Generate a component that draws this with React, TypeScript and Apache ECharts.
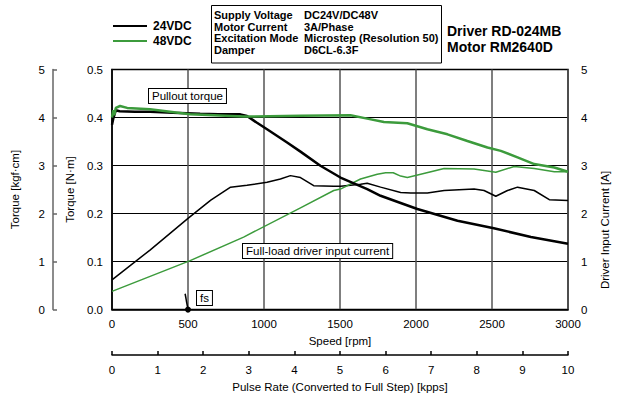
import React, { useEffect, useRef } from "react";
import * as echarts from "echarts";

// Speed [rpm] vs torque [N·m] / driver input current [A]
const torque24VDC: [number, number][] = [
  [0, 0.385], [10, 0.4], [25, 0.415], [50, 0.413], [150, 0.412], [250, 0.412],
  [400, 0.41], [580, 0.408], [700, 0.407], [844, 0.4066], [888, 0.403],
  [954, 0.389], [1020, 0.3755], [1152, 0.348], [1240, 0.329], [1371, 0.2995],
  [1503, 0.275], [1679, 0.251], [1767, 0.237], [1899, 0.222], [2009, 0.2095],
  [2273, 0.185], [2512, 0.1695], [2756, 0.151], [3000, 0.137],
];
const torque48VDC: [number, number][] = [
  [0, 0.4], [8, 0.415], [15, 0.405], [25, 0.42], [53, 0.424], [100, 0.42],
  [250, 0.417], [514, 0.4066], [864, 0.402], [1240, 0.4035], [1400, 0.404],
  [1569, 0.4046], [1679, 0.3977], [1789, 0.3907], [1943, 0.388], [2075, 0.3755],
  [2207, 0.365], [2338, 0.351], [2470, 0.3375], [2558, 0.3305], [2668, 0.317],
  [2778, 0.303], [2910, 0.296], [3000, 0.287],
];
const current24VDC: [number, number][] = [
  [0, 0.62], [250, 1.24], [500, 1.9], [650, 2.28], [780, 2.55], [888, 2.59],
  [1020, 2.65], [1108, 2.72], [1174, 2.79], [1240, 2.75], [1327, 2.58],
  [1459, 2.57], [1503, 2.57], [1635, 2.61], [1679, 2.63], [1767, 2.55],
  [1899, 2.44], [1965, 2.43], [2075, 2.43], [2185, 2.48], [2382, 2.51],
  [2448, 2.48], [2525, 2.36], [2602, 2.48], [2668, 2.55], [2778, 2.48],
  [2877, 2.29], [3000, 2.27],
];
const current48VDC: [number, number][] = [
  [0, 0.38], [514, 1.02], [866, 1.51], [1240, 2.12], [1459, 2.48], [1503, 2.51],
  [1635, 2.72], [1745, 2.82], [1800, 2.85], [1850, 2.85], [1899, 2.78],
  [1943, 2.75], [2031, 2.82], [2185, 2.94], [2382, 2.93], [2525, 2.86],
  [2646, 2.98], [2778, 2.94], [2910, 2.87], [3000, 2.87],
];
const fsMarker: [number, number][] = [[481, 0.033], [500, 0]];

const legendNames = ["24VDC", "48VDC"];
const specLabels = ["Supply Voltage", "Motor Current", "Excitation Mode", "Damper"];
const specValues = ["DC24V/DC48V", "3A/Phase", "Microstep (Resolution 50)", "D6CL-6.3F"];
const headerLines = ["Driver RD-024MB", "Motor RM2640D"];

const BLACK = "#000000";
const GREEN = "#3c9b3c";
const AXFONT = '"Liberation Sans", Arial, sans-serif';
const BOLD = '"Liberation Sans", Arial, sans-serif';

export default function App() {
  const ref = useRef<HTMLDivElement>(null);
  useEffect(() => {
    if (!ref.current) return;
    const chart = echarts.init(ref.current, undefined, { renderer: "svg" });
    const axisText = { color: "#000", fontFamily: AXFONT, fontSize: 11.5 };
    const boxText = (text: string, x: number, y: number) => ({
      type: "text",
      x,
      y,
      z: 100,
      style: {
        text,
        fill: "#000",
        font: `11.5px ${AXFONT}`,
        backgroundColor: "#fff",
        borderColor: "#000",
        borderWidth: 1,
        padding: [1, 3, 1, 3],
      },
    });
    const graphic: any[] = [
      { type: "line", shape: { x1: 113, y1: 26, x2: 147, y2: 26 }, style: { stroke: BLACK, lineWidth: 2 } },
      { type: "line", shape: { x1: 113, y1: 41, x2: 147, y2: 41 }, style: { stroke: GREEN, lineWidth: 2 } },
      { type: "text", x: 153, y: 26, style: { text: legendNames[0], font: `bold 12px ${BOLD}`, fill: "#000", verticalAlign: "middle" } },
      { type: "text", x: 153, y: 41, style: { text: legendNames[1], font: `bold 12px ${BOLD}`, fill: "#000", verticalAlign: "middle" } },
      { type: "rect", shape: { x: 211.5, y: 5.5, width: 230, height: 57.5 }, style: { fill: "#fff", stroke: "#000", lineWidth: 1 } },
      ...specLabels.map((t, i) => ({
        type: "text", x: 214, y: 15 + i * 11.7,
        style: { text: t, font: `bold 11px ${BOLD}`, fill: "#000", verticalAlign: "middle" },
      })),
      ...specValues.map((t, i) => ({
        type: "text", x: 304, y: 15 + i * 11.7,
        style: { text: t, font: `bold 11px ${BOLD}`, fill: "#000", verticalAlign: "middle" },
      })),
      ...headerLines.map((t, i) => ({
        type: "text", x: 447, y: 30.5 + i * 16.5,
        style: { text: t, font: `bold 14px ${BOLD}`, fill: "#000", verticalAlign: "middle" },
      })),
      boxText("Pullout torque", 149, 89),
      boxText("Full-load driver input current", 243, 244),
      boxText("fs", 197, 291),
      {
        type: "text", x: 605, y: 230, rotation: Math.PI / 2,
        style: { text: "Driver Input Current [A]", font: `11.5px ${AXFONT}`, fill: "#000", align: "center", verticalAlign: "middle" },
      },
    ];

    chart.setOption({
      animation: false,
      backgroundColor: "#fff",
      grid: { left: 112, right: 55, top: 69.5, bottom: 86.5, show: true, borderColor: "#000", borderWidth: 1.5, containLabel: false },
      xAxis: [
        {
          type: "value", min: 0, max: 3000, interval: 500, position: "bottom",
          axisLine: { show: true, lineStyle: { color: "#000", width: 1.5 } },
          axisTick: { show: false },
          axisLabel: { ...axisText, margin: 8, formatter: (v: number) => String(v) },
          splitLine: { show: true, lineStyle: { color: "#555", width: 1.5 } },
          name: "Speed [rpm]", nameLocation: "middle", nameGap: 25,
          nameTextStyle: { ...axisText },
        },
        {
          type: "value", min: 0, max: 10, interval: 1, position: "bottom", offset: 45.5,
          axisLine: { show: true, onZero: false, lineStyle: { color: "#000", width: 1.5 } },
          axisTick: { show: true, inside: true, length: 4, lineStyle: { color: "#000", width: 1.5 } },
          axisLabel: { ...axisText, margin: 9, formatter: (v: number) => String(v) },
          splitLine: { show: false },
          name: "Pulse Rate (Converted to Full Step) [kpps]", nameLocation: "middle", nameGap: 25,
          nameTextStyle: { ...axisText },
        },
      ],
      yAxis: [
        {
          type: "value", min: 0, max: 0.5, interval: 0.1, position: "left",
          axisLine: { show: true, lineStyle: { color: "#000", width: 1.5 } },
          axisTick: { show: false },
          axisLabel: { ...axisText, margin: 9, formatter: (v: number) => v.toFixed(1) },
          splitLine: { show: true, lineStyle: { color: "#000", width: 1 } },
          name: "Torque [N·m]", nameLocation: "middle", nameGap: 33,
          nameTextStyle: { ...axisText },
        },
        {
          type: "value", min: 0, max: 5, interval: 1, position: "left", offset: 59,
          axisLine: { show: true, onZero: false, lineStyle: { color: "#666", width: 1.5 } },
          axisTick: { show: true, inside: true, length: 4, lineStyle: { color: "#666", width: 1.5 } },
          axisLabel: { ...axisText, margin: 8 },
          splitLine: { show: false },
          name: "Torque [kgf·cm]", nameLocation: "middle", nameGap: 32,
          nameTextStyle: { ...axisText },
        },
        {
          type: "value", min: 0, max: 5, interval: 1, position: "right",
          axisLine: { show: false },
          axisTick: { show: false },
          axisLabel: { ...axisText, margin: 13 },
          splitLine: { show: false },
        },
      ],
      graphic,
      series: [
        {
          name: "24VDC torque", type: "line", xAxisIndex: 0, yAxisIndex: 0, data: torque24VDC,
          showSymbol: false, symbol: "none", lineStyle: { color: BLACK, width: 2.5 }, itemStyle: { color: BLACK }, z: 4,
        },
        {
          name: "48VDC torque", type: "line", xAxisIndex: 0, yAxisIndex: 0, data: torque48VDC,
          showSymbol: false, symbol: "none", lineStyle: { color: GREEN, width: 2.5 }, itemStyle: { color: GREEN }, z: 5,
        },
        {
          name: "24VDC current", type: "line", xAxisIndex: 0, yAxisIndex: 2, data: current24VDC,
          showSymbol: false, symbol: "none", lineStyle: { color: BLACK, width: 1.5 }, itemStyle: { color: BLACK }, z: 3,
        },
        {
          name: "48VDC current", type: "line", xAxisIndex: 0, yAxisIndex: 2, data: current48VDC,
          showSymbol: false, symbol: "none", lineStyle: { color: GREEN, width: 1.5 }, itemStyle: { color: GREEN }, z: 3,
        },
        {
          name: "fs", type: "line", xAxisIndex: 0, yAxisIndex: 0,
          data: [
            { value: fsMarker[0], symbol: "none" },
            { value: fsMarker[1], symbol: "circle", symbolSize: 6 },
          ],
          showSymbol: true, lineStyle: { color: BLACK, width: 1.5 }, itemStyle: { color: BLACK }, z: 6,
        },
      ],
    });
    return () => chart.dispose();
  }, []);
  return <div ref={ref} style={{ width: 623, height: 398, position: "absolute", left: 0, top: 0 }} />;
}
